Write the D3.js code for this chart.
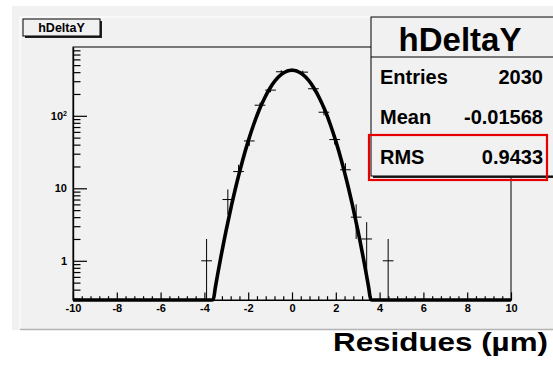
<!DOCTYPE html>
<html><head><meta charset="utf-8">
<script src="https://cdn.jsdelivr.net/npm/d3@7"></script>
<style>
body{margin:0;background:#fff}
svg{display:block;font-family:"Liberation Sans",Arial,Helvetica,sans-serif;font-weight:bold}
</style>
</head><body>
<svg id="c" width="553" height="366"></svg>
<script>
// ---- data ----
const histName = "hDeltaY";
const binCenters = [-3.90,-2.93,-2.44,-1.95,-1.46,-0.98,-0.49,0.00,0.49,0.98,1.46,1.95,2.44,2.93,3.41,4.39];
const binCounts  = [1,7,17,45,140,226,405,430,400,236,112,47,18,4,2,1];
const binWidth = 0.488;
const fitX = [-10,-4,-3.75,-3.6,-3.5,-3.4,-3.25,-3.1,-3,-2.9,-2.75,-2.6,-2.5,-2.4,-2.25,-2,-1.75,-1.5,-1.25,-1,-0.75,-0.5,-0.25,0,
              0.25,0.5,0.75,1,1.25,1.5,1.75,2,2.25,2.4,2.5,2.6,2.75,2.9,3,3.1,3.25,3.4,3.5,3.6,3.75,4,10];
const fitY = [0.0001,0.03,0.156,0.29,0.43,0.637,1.12,1.91,2.69,3.74,6.04,9.48,12.6,16.6,24.6,44.7,75.9,120,176,242,310,369,410,425,
              410,369,310,242,176,120,75.9,44.7,24.6,16.6,12.6,9.48,6.04,3.74,2.69,1.91,1.12,0.637,0.43,0.29,0.156,0.03,0.0001];
const xTickValues = [-10,-8,-6,-4,-2,0,2,4,6,8,10];
const yMajorTicks = [1,10,100];
const yTickLabels = ["1","10","10^2"];
const statLabels = ["Entries","Mean","RMS"];
const statValues = ["2030","-0.01568","0.9433"];
const xAxisTitle = "Residues (\u00b5m)";
const xDomain = [-10,10];
const yDomain = [0.288,889];

// ---- drawing ----
const svg = d3.select("#c");
const padFill = "#f1f1f1";
svg.append("rect").attr("x",0).attr("y",0).attr("width",553).attr("height",366).attr("fill","#fff");
svg.append("rect").attr("x",12).attr("y",6).attr("width",541).attr("height",324).attr("fill",padFill);
// bevel of pad
svg.append("path").attr("d","M20,329 V17 H553").attr("fill","none").attr("stroke","#fcfcfc").attr("stroke-width",1.5);
svg.append("path").attr("d","M20,329.5 H553").attr("fill","none").attr("stroke","#b4b4b4").attr("stroke-width",1.5);

const fx0=73, fx1=511, fy0=47, fy1=300;
const x = d3.scaleLinear().domain(xDomain).range([fx0,fx1]);
const y = d3.scaleLog().domain(yDomain).range([fy1,fy0]);
const yc = v => y(Math.max(v, yDomain[0]));

// frame
svg.append("rect").attr("x",fx0).attr("y",fy0).attr("width",fx1-fx0).attr("height",fy1-fy0)
  .attr("fill",padFill).attr("stroke","#000").attr("stroke-width",1);

const clip = svg.append("clipPath").attr("id","fr").append("rect")
  .attr("x",fx0-3).attr("y",fy0).attr("width",fx1-fx0+6).attr("height",fy1-fy0+3);

// data points with error bars
const pts = svg.append("g").attr("clip-path","url(#fr)").attr("stroke","#000").attr("stroke-width",1);
binCenters.forEach((c,i)=>{
  const n = binCounts[i], e = Math.sqrt(n);
  pts.append("line").attr("x1",x(c)).attr("x2",x(c)).attr("y1",yc(n+e)).attr("y2",yc(n-e));
  pts.append("line").attr("x1",x(c-binWidth/2)).attr("x2",x(c+binWidth/2)).attr("y1",yc(n)).attr("y2",yc(n));
});

// fit curve
const line = d3.line().x((d,i)=>x(fitX[i])).y((d,i)=>yc(fitY[i])).curve(d3.curveMonotoneX);
svg.append("path").attr("clip-path","url(#fr)").datum(fitY).attr("d",line)
  .attr("fill","none").attr("stroke","#000").attr("stroke-width",3.6).attr("stroke-linejoin","round");

// y axis
const yMinor = [];
for (let d=-1; d<=2; d++) for (let k=1;k<=9;k++){ const v=k*Math.pow(10,d); if(v>=yDomain[0]&&v<=yDomain[1]&&!yMajorTicks.includes(v)) yMinor.push(v); }
const gy = svg.append("g").attr("transform",`translate(${fx0},0)`);
gy.call(d3.axisLeft(y).tickValues(yMinor).tickSizeInner(-7.5).tickSizeOuter(0).tickFormat(""));
const gy2 = svg.append("g").attr("transform",`translate(${fx0},0)`);
gy2.call(d3.axisLeft(y).tickValues(yMajorTicks).tickSizeInner(-14).tickSizeOuter(0).tickPadding(6).tickFormat((d,i)=>yTickLabels[i]));
[gy,gy2].forEach(g=>{g.selectAll("line,path").attr("stroke","#000").attr("stroke-width",1.2);});
gy2.selectAll("text").attr("font-size",11).attr("font-weight","bold").attr("fill","#000").attr("font-family",null)
  .each(function(d,i){
    const t=d3.select(this), s=yTickLabels[i];
    if(s.includes("^")){ const [b,p]=s.split("^"); t.text(null); t.append("tspan").text(b); t.append("tspan").attr("dy",-4).attr("font-size",7).text(p); }
  });

// x axis
const xMinor = d3.range(-10,10.001,0.4).filter(v=>Math.abs(v/2-Math.round(v/2))>1e-6);
const gx = svg.append("g").attr("transform",`translate(0,${fy1})`);
gx.call(d3.axisBottom(x).tickValues(xMinor).tickSizeInner(-3.8).tickSizeOuter(0).tickFormat(""));
const gx2 = svg.append("g").attr("transform",`translate(0,${fy1})`);
gx2.call(d3.axisBottom(x).tickValues(xTickValues).tickSizeInner(-7.6).tickSizeOuter(0).tickPadding(4).tickFormat(d3.format("d")));
[gx,gx2].forEach(g=>{g.selectAll("line,path").attr("stroke","#000").attr("stroke-width",1.2);});
gx2.selectAll("text").attr("font-size",11).attr("font-weight","bold").attr("fill","#000").attr("font-family",null)
  .text(d=>String(d).replace("\u2212","-"));

// title box
svg.append("rect").attr("x",25).attr("y",21).attr("width",77).attr("height",17).attr("fill","#222");
svg.append("rect").attr("x",23).attr("y",19).attr("width",77).attr("height",17).attr("fill",padFill).attr("stroke","#000").attr("stroke-width",1);
svg.append("text").attr("x",61.5).attr("y",32).attr("text-anchor","middle").attr("font-size",12.5).text(histName);

// stats box
const sx=371, sy=17, sw=200, sh=159;
svg.append("rect").attr("x",sx+2).attr("y",sy+2).attr("width",sw).attr("height",sh).attr("fill","#222");
svg.append("rect").attr("x",sx).attr("y",sy).attr("width",sw).attr("height",sh).attr("fill",padFill).attr("stroke","#000").attr("stroke-width",1);
svg.append("line").attr("x1",sx).attr("x2",553).attr("y1",57).attr("y2",57).attr("stroke","#000").attr("stroke-width",1);
svg.append("text").attr("x",460).attr("y",51).attr("text-anchor","middle").attr("font-size",33).text(histName);
const rowY = [84,124,164];
statLabels.forEach((l,i)=>{
  svg.append("text").attr("x",380).attr("y",rowY[i]).attr("font-size",20).text(l);
  svg.append("text").attr("x",543).attr("y",rowY[i]).attr("text-anchor","end").attr("font-size",20).text(statValues[i]);
});
// red highlight
svg.append("rect").attr("x",369).attr("y",135).attr("width",178).attr("height",45)
  .attr("fill","none").attr("stroke","#e60000").attr("stroke-width",2.2);

// x axis title
svg.append("text").attr("x",548).attr("y",351).attr("text-anchor","end").attr("font-size",26)
  .attr("textLength",215).attr("lengthAdjust","spacingAndGlyphs").text(xAxisTitle);
</script>
</body></html>
